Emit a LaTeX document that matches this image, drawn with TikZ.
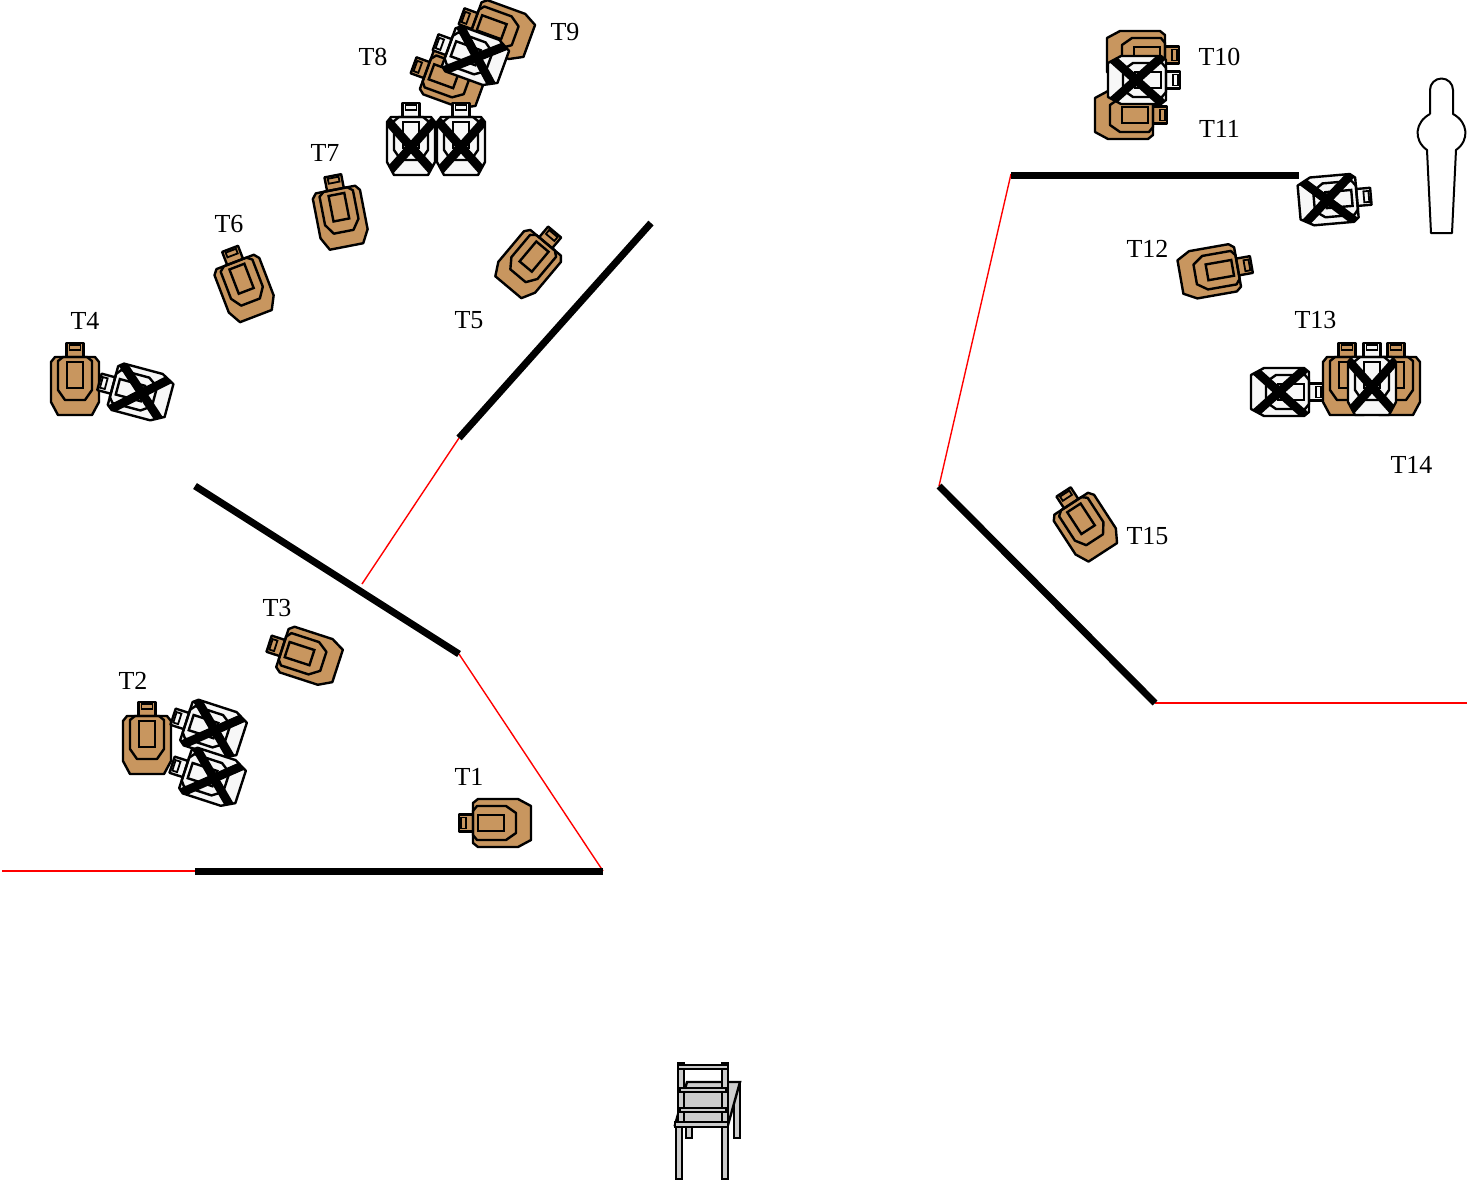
\documentclass[tikz,border=0pt]{standalone}
\usepackage{fontspec}
\setmainfont{Liberation Serif}
\usepackage{xcolor}
\usepackage{tikz}
\definecolor{cardboard}{HTML}{C8965F}
\definecolor{noshoot}{HTML}{F7F7F7}
\newcommand{\targetshape}[1]{%
  \draw[fill=#1,line width=1.2pt,line join=round]
    (-8.5,27) rectangle (8.5,43);
  \draw[line width=.9pt] (-5.5,36) rectangle (5.5,41);
  \draw[fill=#1,line width=1.2pt,line join=round]
    (-24,24)--(-20,29)--(20,29)--(24,24)--(24,-16)--(17,-29)--(-17,-29)--(-24,-16)--cycle;
  \draw[line width=1.2pt,line join=round]
    (-17,25)--(-12,29)--(12,29)--(17,25)--(17,-4)--(10,-14)--(-10,-14)--(-17,-4)--cycle;
  \draw[line width=1.2pt] (-8,24) rectangle (8,-2);
}
\tikzset{
  tgt/.pic={\targetshape{cardboard}},
  notgt/.pic={\targetshape{noshoot}
    \begin{scope}
    \clip (-24,24)--(-20,29)--(20,29)--(24,24)--(24,-16)--(17,-29)--(-17,-29)--(-24,-16)--cycle;
    \draw[line width=4.4pt] (-25,27)--(25,-29);
    \draw[line width=4.4pt] (25,27)--(-25,-29);
    \end{scope}}
}
\begin{document}
\begin{tikzpicture}[x=.5pt,y=.5pt,
  lbl/.style={font=\fontsize{13}{15}\selectfont,inner sep=0pt},
  wall/.style={line width=3.5pt},
  gap/.style={red,line width=.7pt},
  part/.style={draw,fill=black!20,line width=1.2pt}]
\useasboundingbox (0,0) rectangle (1469,-1184);
% red lines, then the walls
\draw[gap] (2,-871) -- (195,-871);
\draw[gap] (459,-654) -- (603,-871);
\draw[gap] (362,-584) -- (459,-438);
\draw[gap] (1011,-174) -- (939,-486);
\draw[gap] (1155,-703) -- (1467,-703);
\draw[wall] (195,-871) -- (603,-871);
\draw[wall] (195,-486) -- (459,-654);
\draw[wall] (459,-438) -- (651,-223);
\draw[wall] (1011,-175) -- (1299,-175);
\draw[wall] (939,-486) -- (1155,-703);
% left bay
\pic[rotate=90] at (502,-823) {tgt};
\pic at (147,-745) {tgt};
\pic[rotate=72] at (214,-730) {notgt};
\pic[rotate=72] at (213,-778) {notgt};
\pic[rotate=72] at (310,-657) {tgt};
\pic at (75,-386) {tgt};
\pic[rotate=75] at (141,-393) {notgt};
\pic[rotate=-40] at (527,-265) {tgt};
\pic[rotate=21] at (245.5,-289) {tgt};
\pic[rotate=11] at (341,-218) {tgt};
\pic[rotate=70] at (502,-31) {tgt};
\pic[rotate=70] at (454,-80) {tgt};
\pic[rotate=70] at (476,-57) {notgt};
\pic at (411,-146) {notgt};
\pic at (461,-146) {notgt};
% right bay
\pic[rotate=-90] at (1136,-55) {tgt};
\pic[rotate=-90] at (1124,-115) {tgt};
\pic[rotate=-90] at (1137,-80) {notgt};
\pic[rotate=-85] at (1328,-200) {notgt};
\pic[rotate=-80] at (1209,-272) {tgt};
\pic[rotate=-90] at (1280,-392) {notgt};
\pic at (1347,-386) {tgt};
\pic at (1396,-386) {tgt};
\pic at (1372,-386) {notgt};
\pic[rotate=33] at (1087,-528) {tgt};
% labels
\node[lbl] (t1) at (469,-776.5) {T1};
\node[lbl] (t2) at (133,-680.5) {T2};
\node[lbl] (t3) at (277,-608.5) {T3};
\node[lbl] (t4) at (85,-320.5) {T4};
\node[lbl] (t5) at (469,-320.5) {T5};
\node[lbl] (t6) at (229,-224.5) {T6};
\node[lbl] (t7) at (325,-152.5) {T7};
\node[lbl] (t8) at (373,-56.5) {T8};
\node[lbl] (t9) at (565,-32.5) {T9};
\node[lbl] (t10) at (1219.5,-56.5) {T10};
\node[lbl] (t11) at (1219.5,-128.5) {T11};
\node[lbl] (t12) at (1147.5,-248.5) {T12};
\node[lbl] (t13) at (1315.5,-320.5) {T13};
\node[lbl] (t14) at (1411.5,-464.5) {T14};
\node[lbl] (t15) at (1147.5,-536.5) {T15};
% shooter outline
\draw[line width=1pt,line join=round] (1430,-114) -- (1430,-90)
  arc[start angle=180,end angle=0,radius=11.5] -- (1453,-114)
  .. controls (1468,-122) and (1470,-140) .. (1456,-150)
  -- (1452,-233) -- (1431,-233) -- (1427,-150)
  .. controls (1413,-140) and (1415,-122) .. (1430,-114);
% chair
\draw[part] (686,-1125) rectangle (692,-1138);
\draw[part] (734,-1082) rectangle (740,-1138);
\draw[part] (687,-1082) -- (740,-1082) -- (728,-1125) -- (675,-1125) -- cycle;
\draw[part] (676,-1125) rectangle (682,-1179);
\draw[part] (722,-1125) rectangle (728,-1179);
\draw[part] (675,-1122) rectangle (728,-1127);
\draw[part] (678,-1063) rectangle (684,-1122);
\draw[part] (722,-1063) rectangle (728,-1122);
\draw[part] (678,-1065) rectangle (728,-1069);
\draw[part] (680,-1088) rectangle (726,-1092);
\draw[part] (680,-1108) rectangle (726,-1112);
\end{tikzpicture}
\end{document}
